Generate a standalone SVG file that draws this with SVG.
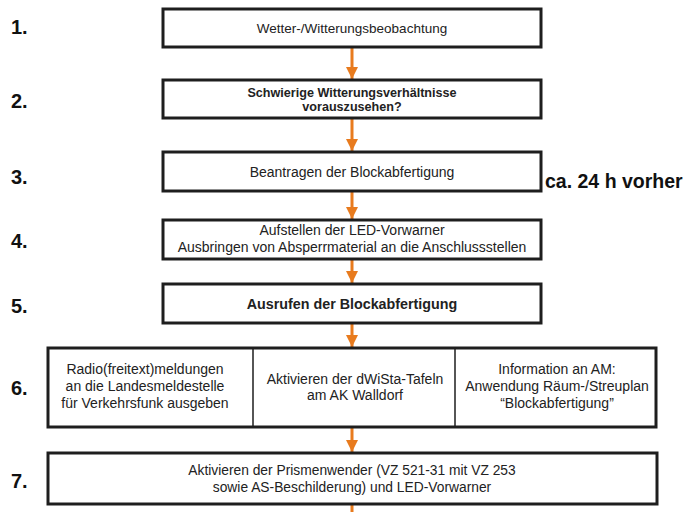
<svg xmlns="http://www.w3.org/2000/svg" width="687" height="512" viewBox="0 0 687 512">
<style>
.box{fill:#fff;stroke:#1e1e1e;stroke-width:3}
.div{stroke:#1e1e1e;stroke-width:1.5}
.t{font-family:"Liberation Sans",Arial,sans-serif;font-size:14px;fill:#222;text-anchor:middle}
.b{font-weight:bold}
.s1{font-size:13.5px}
.s2{font-size:12.6px}
.s5{font-size:14.3px}
.s7{font-size:13.8px}
.n{font-family:"Liberation Sans",Arial,sans-serif;font-size:20px;font-weight:bold;fill:#111}
.note{font-size:19.5px}
.c{stroke:#e87b1e;stroke-width:3;fill:none}
</style>
<defs>
<marker id="ah" viewBox="0 0 10 10" refX="10" refY="5" markerWidth="4" markerHeight="4.5" orient="auto" markerUnits="strokeWidth">
<path d="M0,0 L10,5 L0,10 z" fill="#e87b1e"/>
</marker>
</defs>
<rect width="687" height="512" fill="#fff"/>
<g id="connectors">
<line class="c" x1="352" y1="47" x2="352" y2="79" marker-end="url(#ah)"/>
<line class="c" x1="352" y1="118" x2="352" y2="151" marker-end="url(#ah)"/>
<line class="c" x1="352" y1="191" x2="352" y2="219" marker-end="url(#ah)"/>
<line class="c" x1="352" y1="259" x2="352" y2="283" marker-end="url(#ah)"/>
<line class="c" x1="352" y1="323" x2="352" y2="347" marker-end="url(#ah)"/>
<line class="c" x1="352" y1="427" x2="352" y2="452" marker-end="url(#ah)"/>
<line class="c" x1="352" y1="504" x2="352" y2="512"/>
</g>
<g id="labels">
<text class="n" x="11" y="34">1.</text>
<text class="n" x="11" y="108">2.</text>
<text class="n" x="11" y="184">3.</text>
<text class="n" x="11" y="248">4.</text>
<text class="n" x="11" y="313">5.</text>
<text class="n" x="11" y="395">6.</text>
<text class="n" x="11" y="488">7.</text>
</g>
<g id="n1">
<rect class="box" x="163" y="9" width="378" height="38"/>
<text class="t s1" x="352" y="33">Wetter-/Witterungsbeobachtung</text>
</g>
<g id="n2">
<rect class="box" x="163" y="80" width="378" height="38"/>
<text class="t b s2" x="352" y="97">Schwierige Witterungsverhältnisse</text>
<text class="t b s2" x="352" y="111">vorauszusehen?</text>
</g>
<g id="n3">
<rect class="box" x="163" y="152" width="378" height="39"/>
<text class="t" x="352" y="177">Beantragen der Blockabfertigung</text>
</g>
<text id="note" class="n note" x="545" y="188">ca. 24 h vorher</text>
<g id="n4">
<rect class="box" x="163" y="220" width="378" height="39"/>
<text class="t" x="352" y="235">Aufstellen der LED-Vorwarner</text>
<text class="t" x="352" y="252">Ausbringen von Absperrmaterial an die Anschlussstellen</text>
</g>
<g id="n5">
<rect class="box" x="163" y="284" width="378" height="39"/>
<text class="t b s5" x="352" y="309">Ausrufen der Blockabfertigung</text>
</g>
<g id="n6">
<rect class="box" x="48" y="348" width="608" height="79"/>
<line class="div" x1="253" y1="348" x2="253" y2="427"/>
<line class="div" x1="455" y1="348" x2="455" y2="427"/>
<text class="t" x="145" y="374">Radio(freitext)meldungen</text>
<text class="t" x="145" y="391">an die Landesmeldestelle</text>
<text class="t" x="145" y="408">für Verkehrsfunk ausgeben</text>
<text class="t" x="355" y="384">Aktivieren der dWiSta-Tafeln</text>
<text class="t" x="355" y="400">am AK Walldorf</text>
<text class="t" x="557" y="374">Information an AM:</text>
<text class="t" x="557" y="391">Anwendung Räum-/Streuplan</text>
<text class="t" x="557" y="408">“Blockabfertigung”</text>
</g>
<g id="n7">
<rect class="box" x="48" y="453" width="609" height="51"/>
<text class="t s7" x="352" y="475">Aktivieren der Prismenwender (VZ 521-31 mit VZ 253</text>
<text class="t s7" x="352" y="492">sowie AS-Beschilderung) und LED-Vorwarner</text>
</g>
</svg>
